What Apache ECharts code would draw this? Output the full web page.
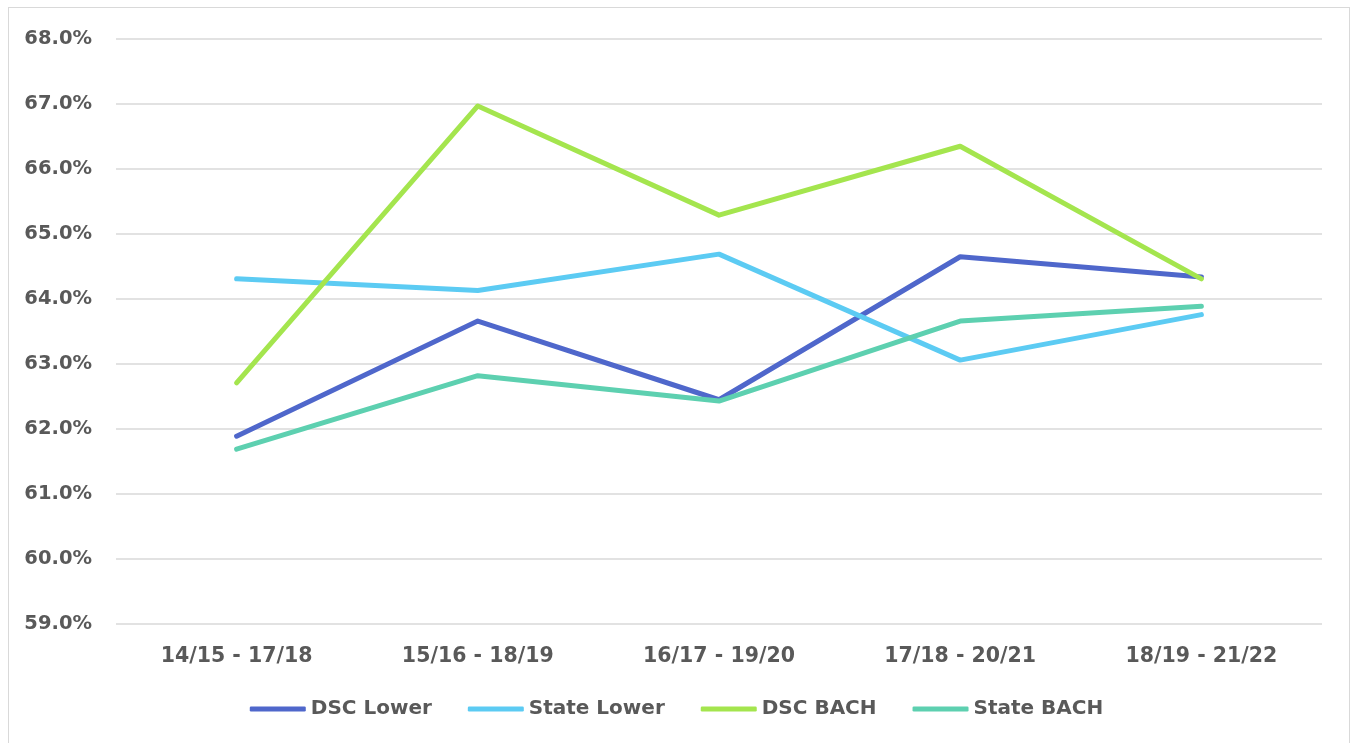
<!DOCTYPE html>
<html><head><meta charset="utf-8">
<script src="https://cdn.jsdelivr.net/npm/echarts@6/dist/echarts.min.js"></script>
<style>
html,body{margin:0;padding:0;background:#fff;}
#frame{position:absolute;left:8px;top:7px;width:1342px;height:740px;border:1.5px solid #d9d9d9;box-sizing:border-box;}
#c{position:absolute;left:0;top:0;width:1353px;height:743px;}
</style></head>
<body>
<div id="frame"></div>
<div id="c"></div>
<script>
const categories = ['14/15 - 17/18','15/16 - 18/19','16/17 - 19/20','17/18 - 20/21','18/19 - 21/22'];
const dscLower   = [61.89, 63.66, 62.45, 64.65, 64.34];
const stateLower = [64.31, 64.13, 64.69, 63.06, 63.76];
const dscBach    = [62.71, 66.97, 65.29, 66.35, 64.31];
const stateBach  = [61.69, 62.82, 62.43, 63.66, 63.89];
const seriesNames = ['DSC Lower','State Lower','DSC BACH','State BACH'];
const colors = ['#4f67cb','#5ccbf3','#a4e54e','#5dd0b0'];

const font = '"DejaVu Sans", sans-serif';
const chart = echarts.init(document.getElementById('c'));
const mk = (name, data, i) => ({
  name, type:'line', data, symbol:'none', smooth:false,
  lineStyle:{width:5, color:colors[i], cap:'round', join:'round'},
  itemStyle:{color:colors[i]}
});
chart.setOption({
  animation:false,
  grid:{left:116, right:31, top:39, bottom:119},
  xAxis:{type:'category', data:categories, boundaryGap:true,
    axisLine:{show:false}, axisTick:{show:false},
    axisLabel:{color:'#595959', fontFamily:font, fontWeight:'bold', fontSize:20.5, margin:22}},
  yAxis:{type:'value', min:59, max:68, interval:1,
    axisLine:{show:false}, axisTick:{show:false},
    splitLine:{lineStyle:{color:'#d9d9d9', width:1.5}},
    axisLabel:{color:'#595959', fontFamily:font, fontWeight:'bold', fontSize:19.5, margin:24,
      formatter:v=>v.toFixed(1)+'%'}},
  legend:{bottom:19, left:'center', itemWidth:56, itemHeight:5, itemGap:36,
    icon:'roundRect',
    textStyle:{color:'#595959', fontFamily:font, fontWeight:'bold', fontSize:20},
    data:seriesNames},
  series:[mk(seriesNames[0],dscLower,0),mk(seriesNames[1],stateLower,1),mk(seriesNames[2],dscBach,2),mk(seriesNames[3],stateBach,3)]
});
</script>
</body></html>
